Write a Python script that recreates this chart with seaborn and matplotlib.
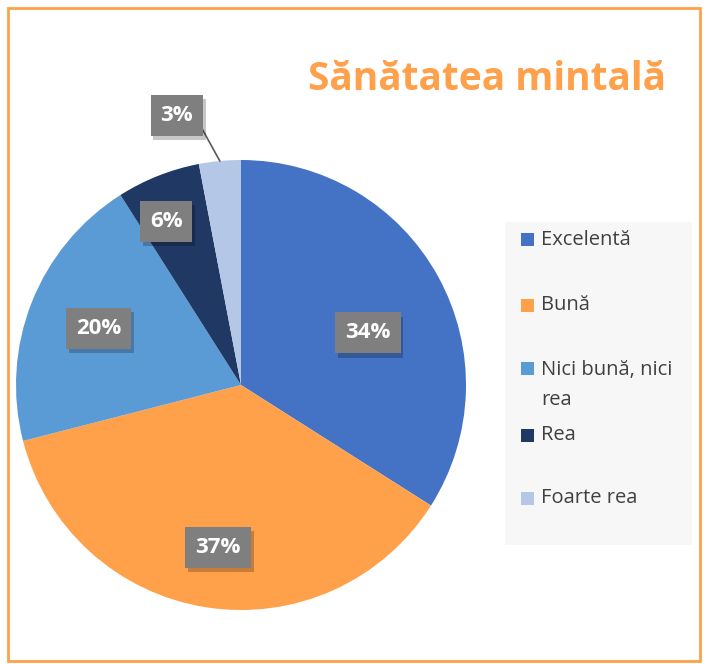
import numpy as np
import matplotlib
matplotlib.use("Agg")
import matplotlib.pyplot as plt
import matplotlib.patheffects as pe
from matplotlib.patches import Rectangle
import seaborn as sns

categories = ["Excelentă", "Bună", "Nici bună, nici rea", "Rea", "Foarte rea"]
legend_labels = ["Excelentă", "Bună", "Nici bună, nici\nrea", "Rea", "Foarte rea"]
values = [34, 37, 20, 6, 3]
title = "Sănătatea mintală"

colors = ["#4472C4", "#FFA04B", "#5B9BD5", "#203864", "#B4C7E7"]
label_dist = [0.61, 0.73, 0.68, 0.80, 1.23]
label_ang_off = [-6.5, 1.0, 0.0, 3.0, 8.0]

sns.set_theme(style="white")
plt.rcParams["font.family"] = ["Open Sans", "DejaVu Sans"]

W, H = 707, 664
fig = plt.figure(figsize=(W / 100, H / 100), dpi=100)
fig.patch.set_facecolor("white")

cx, cy, r = 241, 385, 225
ax = fig.add_axes([(cx - r) / W, (H - cy - r) / H, 2 * r / W, 2 * r / H])
wedges, _ = ax.pie(values, colors=colors, startangle=90, counterclock=False,
                   radius=1, wedgeprops=dict(linewidth=0))
ax.set_xlim(-1, 1)
ax.set_ylim(-1, 1)
ax.set_aspect("auto")
ax.axis("off")

for w, v, d, off in zip(wedges, values, label_dist, label_ang_off):
    mid = np.deg2rad((w.theta1 + w.theta2) / 2)
    ang = mid + np.deg2rad(off)
    x, y = d * np.cos(ang), d * np.sin(ang)
    t = ax.text(x, y, f"{v}%", ha="center", va="center", color="white",
                fontsize=16, fontweight="bold",
                bbox=dict(boxstyle="square,pad=0.45", fc="#7F7F7F", ec="none"),
                zorder=5)
    t.get_bbox_patch().set_path_effects([pe.withSimplePatchShadow(offset=(2, -3), alpha=0.22, shadow_rgbFace="black"), pe.Normal()])
    if d > 1:
        ex, ey = np.cos(mid), np.sin(mid)
        ax.plot([x + 0.105, ex], [y - 0.045, ey], color="#595959", lw=1.2, zorder=4, clip_on=False)

fig.text(666 / W, 1 - 79 / H, title, ha="right", va="center", color="#FFA04B",
         fontsize=28, fontweight="bold")

# legend
lax = fig.add_axes([505 / W, (H - 545) / H, 187 / W, 323 / H])
lax.set_xlim(0, 1)
lax.set_ylim(0, 1)
lax.axis("off")
lax.add_patch(Rectangle((0, 0), 1, 1, transform=lax.transAxes, fc="#F7F7F7", ec="none"))
ys = [240, 305, 369, 435, 498]
for lbl, c, yy in zip(legend_labels, colors, ys):
    fy = 1 - (yy - 222) / 323
    lax.add_patch(Rectangle((16 / 187, fy - 6.5 / 323), 13 / 187, 13 / 323, fc=c, ec="none"))
    if "\n" in lbl:
        lax.text(36 / 187, fy + 9 / 323, lbl, ha="left", va="top",
                 fontsize=14.5, color="#404040", linespacing=1.65)
    else:
        lax.text(36 / 187, fy, lbl, ha="left", va="center",
                 fontsize=14.5, color="#404040")

fig.add_artist(Rectangle((8 / W, 1 - 661 / H), 692 / W, 653 / H, transform=fig.transFigure,
                         fill=False, ec="#FFA04B", lw=2))

fig.savefig("out.png", dpi=100)
